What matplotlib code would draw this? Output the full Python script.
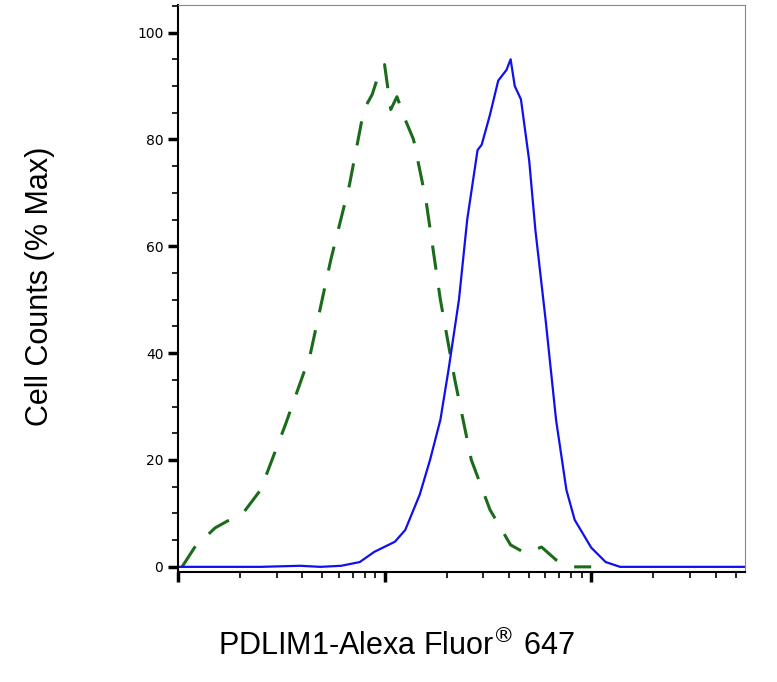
import numpy as np
import matplotlib
matplotlib.use("Agg")
import matplotlib.pyplot as plt
from matplotlib.ticker import FixedLocator, MultipleLocator, NullFormatter

# log10 of intensity and % max
iso_logx = [0.02,0.08,0.18,0.32,0.40,0.52,0.64,0.74,0.83,0.90,0.94,0.97,1.00,1.03,1.06,1.10,1.14,1.20,1.27,1.34,1.42,1.51,1.61,1.68,1.76,1.83,1.90,2.0]
iso_y = [0,3.6,7.3,10.3,14.4,26.6,39.7,57.5,71.5,85.6,88.4,92,94,85.6,88,83.7,80,68.7,50,35,20,10.7,4.1,2.6,3.7,1.3,0,0]
pos_logx = [0.0,0.40,0.59,0.69,0.79,0.88,0.95,1.05,1.10,1.17,1.22,1.27,1.31,1.36,1.40,1.45,1.47,1.51,1.55,1.59,1.61,1.63,1.66,1.70,1.73,1.78,1.83,1.88,1.92,2.0,2.07,2.14,2.75]
pos_y = [0,0,0.2,0,0.2,0.9,2.8,4.7,6.9,13.5,20,27.5,37,50,65,78,79,84.6,91,93,95,90,87.5,76,63,46,27.5,14.4,8.8,3.6,0.9,0,0]

fig = plt.figure(figsize=(7.77,6.82), dpi=100)
ax = fig.add_axes([0.229,0.161,0.730,0.832])
ax.plot(10**np.array(iso_logx), iso_y, color='#1a6b1a', lw=2.2, ls=(0,(8,6)))
ax.plot(10**np.array(pos_logx), pos_y, color='#1010ee', lw=1.6)
ax.set_xscale('log')
ax.set_xlim(1, 10**2.745)
ax.set_ylim(-1, 105.2)
ax.xaxis.set_major_locator(FixedLocator([1,10,100]))
minors = [m*10**e for e in range(0,3) for m in range(2,10) if m*10**e < 10**2.745]
ax.xaxis.set_minor_locator(FixedLocator(minors))
ax.xaxis.set_major_formatter(NullFormatter()); ax.xaxis.set_minor_formatter(NullFormatter())
ax.set_yticks([0,20,40,60,80,100])
ax.yaxis.set_minor_locator(MultipleLocator(5))
ax.tick_params(axis='both', which='major', length=7, width=2.5, direction='out', labelsize=10)
ax.tick_params(axis='both', which='minor', length=4, width=1.2, direction='out')
for s in ['top','right']:
    ax.spines[s].set_color('#888888')
for s in ['left','bottom']:
    ax.spines[s].set_linewidth(1.5)
fig.text(0.052, 0.58, 'Cell Counts (% Max)', fontsize=22, rotation=90, ha='center', va='center', family='Liberation Sans')
fig.text(0.51, 0.04, 'PDLIM1-Alexa Fluor$^{®}$ 647', fontsize=22, ha='center', family='Liberation Sans')
fig.savefig('out.png')
